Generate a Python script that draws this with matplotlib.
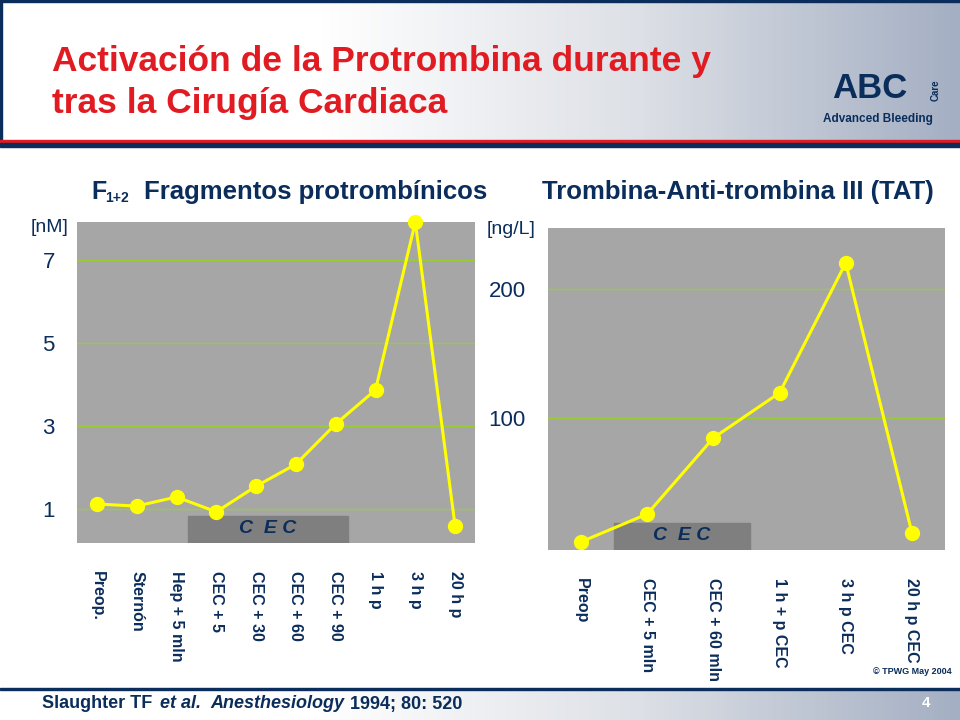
import numpy as np
import matplotlib.pyplot as plt
from matplotlib.patches import Rectangle
from matplotlib.colors import LinearSegmentedColormap

plt.rcParams["font.family"] = "Liberation Sans"

left_cats = ["Preop.", "Sternón", "Hep + 5 mln", "CEC + 5", "CEC + 30", "CEC + 60",
             "CEC + 90", "1 h p", "3 h p", "20 h p"]
left_vals = [1.12, 1.07, 1.29, 0.93, 1.55, 2.08, 3.05, 3.87, 7.92, 0.59]
left_ticks = [1, 3, 5, 7]
right_cats = ["Preop", "CEC + 5 mln", "CEC + 60 mln", "1 h + p CEC", "3 h p CEC", "20 h p CEC"]
right_vals = [4, 25.6, 84.5, 119.4, 220, 11]
right_ticks = [100, 200]

W, H = 960, 720
fig = plt.figure(figsize=(9.6, 7.2), dpi=100)
fig.patch.set_facecolor("white")
navy = "#0b2d5c"

def ax_px(x0, y0, x1, y1, **kw):
    return fig.add_axes([x0 / W, 1 - y1 / H, (x1 - x0) / W, (y1 - y0) / H], **kw)

bg = ax_px(0, 0, 960, 720)
bg.axis("off")
grad = np.linspace(0, 1, 256)[None, :]
cm = LinearSegmentedColormap.from_list("g", ["#ffffff", "#ffffff", "#dde0e6", "#a4afc3"])
bg.imshow(grad, extent=(0, W, 140, 2), cmap=cm, aspect="auto")
bg.add_patch(Rectangle((0, 0), W, 2, color=navy))
bg.add_patch(Rectangle((0, 0), 2, 142, color=navy))
bg.add_patch(Rectangle((0, 140), W, 3, color="#e01b22"))
bg.add_patch(Rectangle((0, 143), W, 4, color=navy))
bg.imshow(grad, extent=(0, W, 720, 690), cmap=cm, aspect="auto")
bg.add_patch(Rectangle((0, 688), W, 2, color=navy))
bg.set_xlim(0, W); bg.set_ylim(H, 0)
bg.text(52, 62, "Activación de la Protrombina durante y", color="#e01b22", fontsize=25.5, fontweight="bold", va="center")
bg.text(52, 104, "tras la Cirugía Cardiaca", color="#e01b22", fontsize=25.5, fontweight="bold", va="center")
bg.text(870, 88, "ABC", color=navy, fontsize=25, fontweight="bold", ha="center", va="center")
bg.text(936, 90, "Care", color=navy, fontsize=7, fontweight="bold", rotation=90, ha="center", va="center")
bg.text(878, 119, "Advanced Bleeding", color=navy, fontsize=8.5, fontweight="bold", ha="center", va="center")
bg.text(91, 192, "F", color=navy, fontsize=18, fontweight="bold", va="center")
bg.text(105, 198, "1+2", color=navy, fontsize=10, fontweight="bold", va="center")
bg.text(144, 192, "Fragmentos protrombínicos", color=navy, fontsize=18.5, fontweight="bold", va="center")
bg.text(738, 192, "Trombina-Anti-trombina III (TAT)", color=navy, fontsize=18.5, fontweight="bold", va="center", ha="center")
bg.text(50, 227, "[nM]", color=navy, fontsize=14, va="center", ha="center")
bg.text(511, 229, "[ng/L]", color=navy, fontsize=14, va="center", ha="center")
bg.text(952, 672, "© TPWG May 2004", color=navy, fontsize=6.5, fontweight="bold", ha="right", va="center")
bg.text(42, 704, "Slaughter TF", color=navy, fontsize=13, fontweight="bold", va="center")
bg.text(160, 704, "et al.", color=navy, fontsize=13, fontweight="bold", style="italic", va="center")
bg.text(210, 704, "Anesthesiology", color=navy, fontsize=13, fontweight="bold", style="italic", va="center")
bg.text(350, 704, "1994; 80: 520", color=navy, fontsize=13, fontweight="bold", va="center")
bg.text(926, 703, "4", color="white", fontsize=11, fontweight="bold", va="center", ha="center")

def panel(box, cats, vals, ticks, ylim, cecx):
    ax = ax_px(*box)
    ax.set_facecolor("#a6a6a6")
    x = np.arange(len(cats))
    ax.set_xlim(-0.5, len(cats) - 0.5)
    ax.set_ylim(*ylim)
    for tk in ticks:
        ax.axhline(tk, color="#9acd32", lw=1.0, zorder=1)
    ax.add_patch(Rectangle((cecx[0], ylim[0]), cecx[1] - cecx[0], (ylim[1] - ylim[0]) * 0.085,
                           color="#7f7f7f", zorder=2))
    ax.text((cecx[0] + cecx[1]) / 2, ylim[0] + (ylim[1] - ylim[0]) * 0.045, "C  E C",
            color=navy, fontsize=14, fontweight="bold", style="italic", ha="center", va="center", zorder=3)
    ax.plot(x, vals, color="#ffff00", lw=2.2, marker="o", ms=10, zorder=4, clip_on=False)
    ax.set_yticks(ticks)
    ax.set_yticklabels([str(tk) for tk in ticks], fontsize=16, color=navy)
    ax.set_xticks(x)
    ax.set_xticklabels(cats, rotation=-90, fontsize=11.5, fontweight="bold", color=navy, va="top",
                       ha="center")
    ax.tick_params(axis="x", length=0, pad=20)
    ax.tick_params(axis="y", length=0, pad=16)
    for s in ax.spines.values():
        s.set_visible(False)
    return ax

panel((77, 222, 475, 543), left_cats, left_vals, left_ticks, (0.18, 7.92), (2.3, 6.3))
panel((548, 228, 945, 550), right_cats, right_vals, right_ticks, (-2.3, 247), (0.5, 2.55))

fig.savefig("out.png", dpi=100)
